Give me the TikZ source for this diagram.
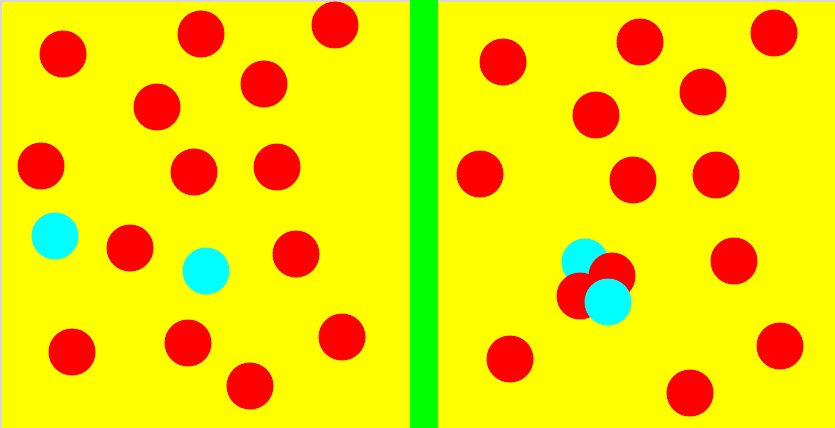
\documentclass[tikz,border=0pt]{standalone}
\usepackage{tikz}
\definecolor{boxyellow}{RGB}{255,255,0}
\definecolor{ballred}{RGB}{255,0,0}
\definecolor{ballcyan}{RGB}{0,255,255}
\definecolor{wallgreen}{RGB}{0,255,0}
\definecolor{edgegray}{RGB}{215,215,215}

\begin{document}
\begin{tikzpicture}[
  x=1pt, y=-1pt,
  redball/.style={fill=ballred},
  cyanball/.style={fill=ballcyan},
  wall/.style={fill=wallgreen}
]
  % Background
  \useasboundingbox (0,0) rectangle (835,428);
  \fill[boxyellow] (0,0) rectangle (835,428);
  \fill[edgegray] (0,0) rectangle (2,428);
  \fill[edgegray] (0,0) rectangle (835,2);

  % Partition
  \fill[wall] (410,0) rectangle (438,428);

  % Left chamber
  \foreach \x/\y in {63/54, 201/34, 335/25, 264/84, 157/107, 41/166, 194/172,
                     277/167, 130/248, 296/254, 72/352, 188/343, 342/337, 250/386}
    \fill[redball] (\x,\y) circle (23.5);
  \fill[cyanball] (55,236) circle (23.5);
  \fill[cyanball] (206,271) circle (23.5);

  % Right chamber
  \foreach \x/\y in {503/62, 640/42, 774/33, 703/92, 596/115, 480/174, 633/180,
                     716/175, 734/261, 510/359, 780/346, 690/393}
    \fill[redball] (\x,\y) circle (23.5);
  % Collision cluster
  \fill[cyanball] (585,262) circle (23.5);
  \fill[redball] (612,276) circle (23.5);
  \fill[redball] (580,296) circle (23.5);
  \fill[cyanball] (608,302) circle (23.5);
\end{tikzpicture}
\end{document}
